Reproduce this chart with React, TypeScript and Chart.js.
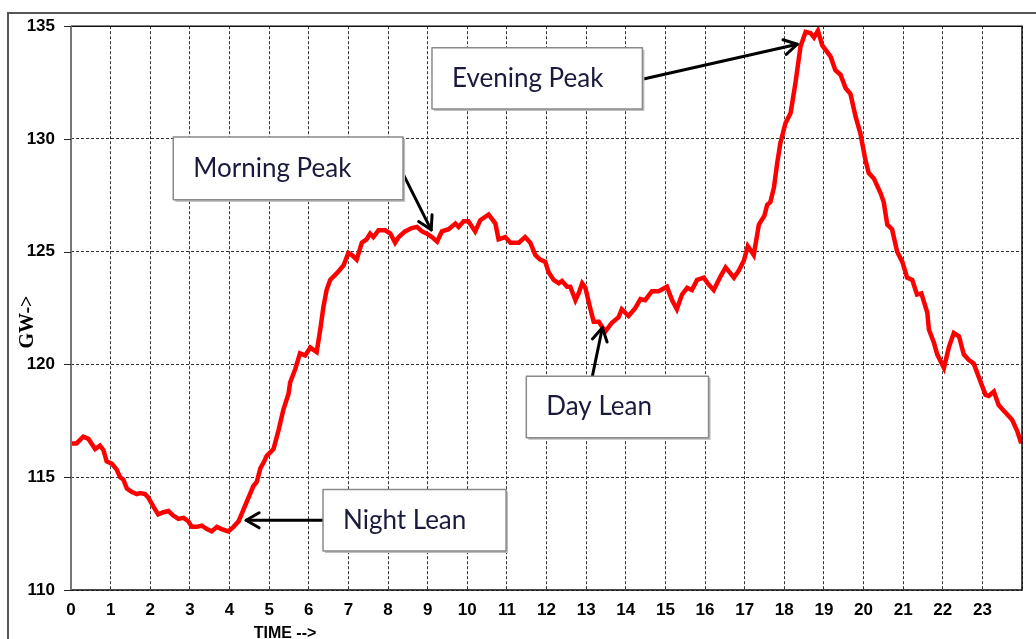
import React, { useEffect, useRef } from 'react';
import { Chart, registerables } from 'chart.js';

Chart.register(...registerables);

// Hour of day (x) and all-India demand in GW (y)
const hours = [
  0.0, 0.14, 0.31, 0.44, 0.61, 0.73, 0.82, 0.9, 1.03, 1.15, 1.24, 1.32, 1.41, 1.53, 1.66, 1.74, 1.87, 1.95,
  2.08, 2.2, 2.33, 2.46, 2.58, 2.71, 2.84, 2.96, 3.05, 3.17, 3.3, 3.43, 3.55, 3.68, 3.8, 3.97,
  4.1, 4.23, 4.35, 4.48, 4.6, 4.69, 4.78, 4.86, 4.94, 5.11, 5.24, 5.36, 5.49, 5.53, 5.66, 5.78, 5.91,
  6.04, 6.2, 6.29, 6.37, 6.45, 6.54, 6.71, 6.88, 7.0, 7.09, 7.21, 7.34, 7.46, 7.55, 7.63, 7.76, 7.93,
  8.06, 8.18, 8.27, 8.43, 8.6, 8.73, 8.86, 8.98, 9.11, 9.24, 9.36, 9.53, 9.7, 9.78, 9.91,
  10.03, 10.2, 10.33, 10.54, 10.71, 10.79, 10.96, 11.09, 11.3, 11.46, 11.59, 11.72, 11.84, 11.97,
  12.05, 12.18, 12.31, 12.39, 12.52, 12.6, 12.73, 12.81, 12.9, 12.98, 13.11, 13.19, 13.32, 13.48, 13.65, 13.82, 13.9,
  14.07, 14.24, 14.37, 14.49, 14.66, 14.83, 15.04, 15.17, 15.29, 15.42, 15.55, 15.67, 15.8, 15.97,
  16.09, 16.22, 16.39, 16.52, 16.64, 16.73, 16.85, 16.98, 17.08, 17.23, 17.36, 17.5, 17.57, 17.65, 17.74, 17.82, 17.9,
  18.03, 18.16, 18.28, 18.41, 18.54, 18.66, 18.75, 18.85, 18.96, 19.17, 19.29, 19.42, 19.55, 19.67, 19.8, 19.92,
  20.05, 20.13, 20.26, 20.43, 20.51, 20.6, 20.72, 20.85, 20.98, 21.1, 21.23, 21.35, 21.46, 21.61, 21.65, 21.78, 21.86,
  22.03, 22.16, 22.28, 22.41, 22.53, 22.66, 22.78, 22.95, 23.08, 23.16, 23.29, 23.41, 23.54, 23.75, 23.88, 23.98,
];

const demandGW = [
  116.5, 116.5, 116.8, 116.7, 116.25, 116.4, 116.2, 115.7, 115.6, 115.35, 115.0, 114.9, 114.5, 114.35, 114.25, 114.3, 114.25, 114.1,
  113.7, 113.35, 113.45, 113.5, 113.3, 113.15, 113.2, 113.05, 112.8, 112.8, 112.85, 112.7, 112.6, 112.8, 112.7, 112.6,
  112.8, 113.05, 113.55, 114.1, 114.6, 114.8, 115.4, 115.65, 115.95, 116.25, 117.1, 118.0, 118.7, 119.2, 119.8, 120.5, 120.4,
  120.75, 120.55, 121.55, 122.55, 123.3, 123.75, 124.05, 124.4, 124.95, 124.85, 124.65, 125.4, 125.55, 125.8, 125.65, 125.95, 125.95,
  125.8, 125.4, 125.65, 125.9, 126.05, 126.1, 125.9, 125.8, 125.65, 125.45, 125.9, 126.0, 126.25, 126.1, 126.35,
  126.35, 125.9, 126.4, 126.65, 126.25, 125.55, 125.65, 125.4, 125.4, 125.65, 125.4, 124.85, 124.65, 124.55,
  124.1, 123.75, 123.6, 123.7, 123.45, 123.45, 122.85, 123.15, 123.6, 123.4, 122.45, 121.9, 121.9, 121.45, 121.85, 122.1, 122.45,
  122.15, 122.5, 122.9, 122.85, 123.25, 123.25, 123.45, 122.85, 122.45, 123.1, 123.4, 123.3, 123.75, 123.85,
  123.55, 123.3, 123.9, 124.3, 124.05, 123.85, 124.15, 124.6, 125.25, 124.85, 126.2, 126.6, 127.08, 127.2, 127.85, 128.9, 129.8,
  130.7, 131.15, 132.45, 134.1, 134.75, 134.7, 134.5, 134.8, 134.15, 133.65, 133.05, 132.85, 132.25, 132.0, 131.0, 130.25,
  129.05, 128.5, 128.25, 127.6, 127.2, 126.2, 126.0, 125.0, 124.55, 123.85, 123.75, 123.1, 123.15, 122.3, 121.55, 120.95, 120.45,
  119.85, 120.8, 121.4, 121.25, 120.45, 120.2, 120.05, 119.25, 118.65, 118.6, 118.8, 118.2, 117.95, 117.55, 117.05, 116.5,
];

const xTickHours = [0, 1, 2, 3, 4, 5, 6, 7, 8, 9, 10, 11, 12, 13, 14, 15, 16, 17, 18, 19, 20, 21, 22, 23];
const yTicks = [110, 115, 120, 125, 130, 135];

const xTitle = 'TIME -->';
const yTitle = 'GW->';

// Callout labels, positioned in data coordinates: box [x1, yTop, x2, yBottom], arrow from -> to
const noteLabels = ['Morning Peak', 'Evening Peak', 'Day Lean', 'Night Lean'];
const noteBoxes = [
  [2.58, 130.09, 8.38, 127.3],
  [9.11, 134.04, 14.42, 131.33],
  [11.49, 119.48, 16.09, 116.75],
  [6.36, 114.46, 10.98, 111.73],
];
const noteArrowFrom = [
  [8.33, 128.63],
  [14.42, 132.65],
  [13.16, 119.5],
  [6.36, 113.09],
];
const noteArrowTo = [
  [9.09, 125.97],
  [18.33, 134.2],
  [13.41, 121.63],
  [4.42, 113.09],
];

export default function App() {
  const ref = useRef<HTMLCanvasElement>(null);

  useEffect(() => {
    document.body.style.margin = '0';
    document.body.style.overflow = 'hidden';
    const canvas = ref.current;
    if (!canvas) return;

    const overlay = {
      id: 'overlay',
      beforeDraw(chart: any) {
        const ctx = chart.ctx;
        ctx.save();
        ctx.fillStyle = '#ffffff';
        ctx.fillRect(0, 0, chart.width, chart.height);
        // outer frame (top and left)
        ctx.strokeStyle = '#555555';
        ctx.lineWidth = 2;
        ctx.beginPath();
        ctx.moveTo(8, chart.height + 2);
        ctx.lineTo(8, 13);
        ctx.lineTo(chart.width + 2, 13);
        ctx.stroke();
        ctx.restore();
      },
      afterDatasetsDraw(chart: any) {
        const ctx = chart.ctx;
        const xs = chart.scales.x;
        const ys = chart.scales.y;
        const a = chart.chartArea;
        ctx.save();
        // plot border
        ctx.setLineDash([]);
        ctx.strokeStyle = '#111111';
        ctx.lineWidth = 1.5;
        ctx.beginPath();
        ctx.moveTo(a.left, a.top);
        ctx.lineTo(a.right, a.top);
        ctx.lineTo(a.right, a.bottom);
        ctx.lineTo(a.left, a.bottom);
        ctx.stroke();
        ctx.strokeStyle = '#777777';
        ctx.lineWidth = 2;
        ctx.beginPath();
        ctx.moveTo(a.left, a.top);
        ctx.lineTo(a.left, a.bottom);
        ctx.stroke();
        // y tick marks
        ctx.strokeStyle = '#222222';
        ctx.lineWidth = 1;
        yTicks.forEach((v) => {
          const y = Math.round(ys.getPixelForValue(v)) + 0.5;
          ctx.beginPath();
          ctx.moveTo(a.left - 7, y);
          ctx.lineTo(a.left, y);
          ctx.stroke();
        });

        // callouts
        noteLabels.forEach((label, i) => {
          const [bx1, by1, bx2, by2] = noteBoxes[i];
          const x1 = xs.getPixelForValue(bx1);
          const x2 = xs.getPixelForValue(bx2);
          const y1 = ys.getPixelForValue(by1);
          const y2 = ys.getPixelForValue(by2);
          // arrow
          const fx = xs.getPixelForValue(noteArrowFrom[i][0]);
          const fy = ys.getPixelForValue(noteArrowFrom[i][1]);
          const tx = xs.getPixelForValue(noteArrowTo[i][0]);
          const ty = ys.getPixelForValue(noteArrowTo[i][1]);
          ctx.strokeStyle = '#000000';
          ctx.lineWidth = 3;
          ctx.lineCap = 'round';
          ctx.lineJoin = 'round';
          ctx.beginPath();
          ctx.moveTo(fx, fy);
          ctx.lineTo(tx, ty);
          ctx.stroke();
          const ang = Math.atan2(ty - fy, tx - fx);
          const hl = 15;
          const spread = Math.PI / 6;
          ctx.beginPath();
          ctx.moveTo(tx - hl * Math.cos(ang - spread), ty - hl * Math.sin(ang - spread));
          ctx.lineTo(tx, ty);
          ctx.lineTo(tx - hl * Math.cos(ang + spread), ty - hl * Math.sin(ang + spread));
          ctx.stroke();
          // box
          ctx.fillStyle = '#bdbdbd';
          ctx.fillRect(x1 + 2, y1 + 2, x2 - x1, y2 - y1);
          ctx.fillStyle = '#ffffff';
          ctx.fillRect(x1, y1, x2 - x1, y2 - y1);
          ctx.strokeStyle = '#8a8a8a';
          ctx.lineWidth = 1.5;
          ctx.strokeRect(x1, y1, x2 - x1, y2 - y1);
          // text
          ctx.fillStyle = '#1a1a3c';
          ctx.font = '26px Lato, "Open Sans", sans-serif';
          ctx.textAlign = 'left';
          ctx.textBaseline = 'middle';
          ctx.fillText(label, x1 + 20, (y1 + y2) / 2);
        });

        // axis titles
        ctx.fillStyle = '#000000';
        ctx.font = 'bold 16px "Liberation Sans", Arial, sans-serif';
        ctx.textAlign = 'center';
        ctx.textBaseline = 'alphabetic';
        ctx.fillText(xTitle, 285, 638);
        ctx.translate(28, 322);
        ctx.rotate(-Math.PI / 2);
        ctx.font = 'bold 20px "Liberation Serif", "Times New Roman", serif';
        ctx.textBaseline = 'middle';
        ctx.fillText(yTitle, 0, 0);
        ctx.restore();
      },
    };

    const tickFont = { family: '"Liberation Sans", Arial, sans-serif', size: 17, weight: 'bold' as const };

    const chart = new Chart(canvas, {
      type: 'line',
      data: {
        datasets: [
          {
            data: hours.map((h, i) => ({ x: h, y: demandGW[i] })),
            borderColor: '#ff0000',
            borderWidth: 4.5,
            pointRadius: 0,
            tension: 0,
            fill: false,
          },
        ],
      },
      options: {
        responsive: false,
        animation: false,
        devicePixelRatio: 1,
        layout: { padding: { top: 26, right: 14, left: 0, bottom: 0 } },
        plugins: { legend: { display: false }, tooltip: { enabled: false } },
        scales: {
          x: {
            type: 'linear',
            min: 0,
            max: 24,
            afterBuildTicks: (s: any) => {
              s.ticks = xTickHours.concat([24]).map((v) => ({ value: v }));
            },
            ticks: {
              autoSkip: false,
              maxRotation: 0,
              padding: 10,
              color: '#000000',
              font: tickFont,
              callback: (v: any) => (v === 24 ? '' : String(v)),
            },
            grid: { color: '#333333', lineWidth: 1, drawTicks: false },
            border: { display: false, dash: [3, 2] },
            afterFit: (s: any) => {
              s.height = 49;
            },
          },
          y: {
            min: 110,
            max: 135,
            afterBuildTicks: (s: any) => {
              s.ticks = yTicks.map((v) => ({ value: v }));
            },
            ticks: { padding: 16, color: '#000000', font: tickFont },
            grid: { color: '#333333', lineWidth: 1, drawTicks: false },
            border: { display: false, dash: [3, 2] },
            afterFit: (s: any) => {
              s.width = 71;
            },
          },
        },
      },
      plugins: [overlay],
    } as any);

    return () => chart.destroy();
  }, []);

  return <canvas ref={ref} width={1036} height={639} style={{ display: 'block' }} />;
}
